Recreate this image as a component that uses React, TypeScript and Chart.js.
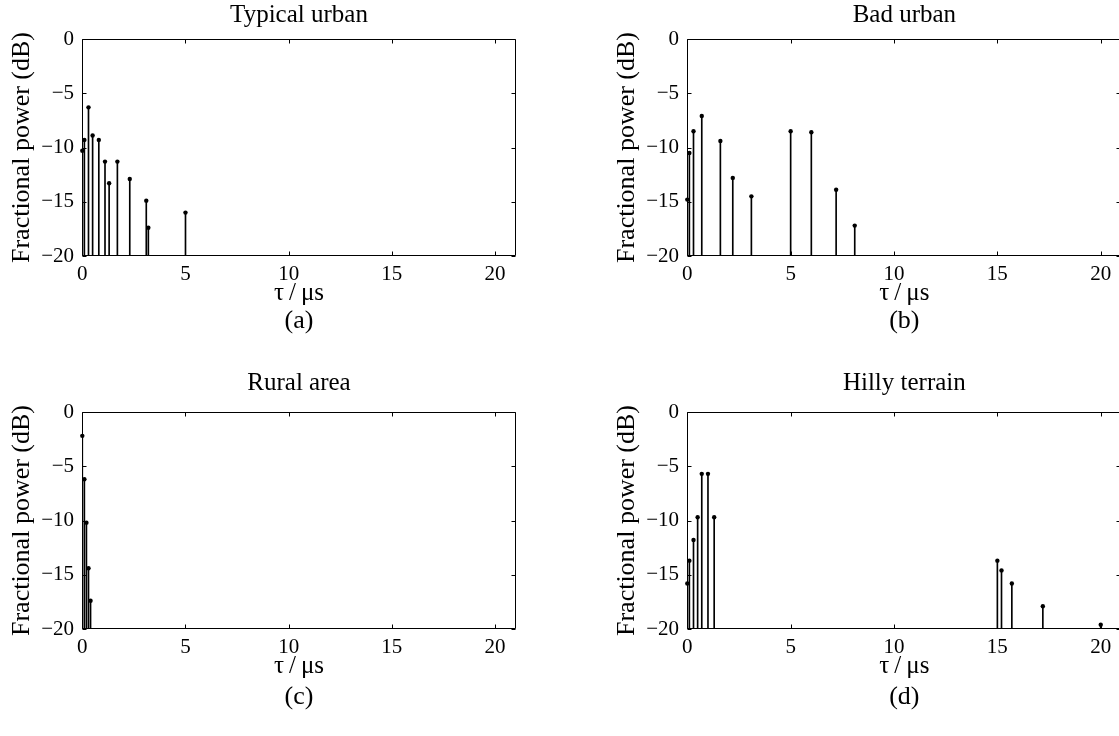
import React, { useEffect, useRef } from "react";
import { Chart, registerables } from "chart.js";

Chart.register(...registerables);

// ---------------- data ----------------
const tuDelay = [0, 0.1, 0.3, 0.5, 0.8, 1.1, 1.3, 1.7, 2.3, 3.1, 3.2, 5.0];
const tuPower = [-10.3, -9.3, -6.3, -8.9, -9.3, -11.3, -13.3, -11.3, -12.9, -14.9, -17.4, -16.0];

const buDelay = [0, 0.1, 0.3, 0.7, 1.6, 2.2, 3.1, 5.0, 6.0, 7.2, 8.1];
const buPower = [-14.8, -10.5, -8.5, -7.1, -9.4, -12.8, -14.5, -8.5, -8.6, -13.9, -17.2];

const raDelay = [0, 0.1, 0.2, 0.3, 0.4];
const raPower = [-2.2, -6.2, -10.2, -14.4, -17.4];

const htDelay = [0, 0.1, 0.3, 0.5, 0.7, 1.0, 1.3, 15.0, 15.2, 15.7, 17.2, 20.0];
const htPower = [-15.8, -13.7, -11.8, -9.7, -5.7, -5.7, -9.7, -13.7, -14.6, -15.8, -17.9, -19.6];

const xTickValues = [0, 5, 10, 15, 20];
const yTickValues = [-20, -15, -10, -5, 0];
const xRange = [0, 21];
const yRange = [-20, 0];

const panelTitles = ["Typical urban", "Bad urban", "Rural area", "Hilly terrain"];
const panelLabels = ["(a)", "(b)", "(c)", "(d)"];
const xAxisTitle = "\u03C4\u2009/\u2009\u03BCs";
const yAxisTitle = "Fractional power (dB)";

// ---------------- layout ----------------
const FONT = "'Liberation Serif', 'Times New Roman', serif";

const columns = [
  { x: 0, w: 560, padRight: 44.3 },
  { x: 605, w: 520, padRight: 3.6 },
];
const rows = [
  { y: 0, h: 368, titleTop: 0, titleBottom: 9, xScaleH: 52, xTitleBottom: 0, padBottom: 34 },
  { y: 368, h: 368, titleTop: 0, titleBottom: 14, xScaleH: 55, xTitleBottom: 3, padBottom: 26 },
];

const boxPlugin = {
  id: "matlabBox",
  afterDatasetsDraw(chart: any) {
    const { ctx, chartArea: a, scales } = chart;
    const xs = scales.x;
    const ys = scales.y;
    const L = Math.round(a.left) + 0.5;
    const R = Math.round(a.right) - 0.5;
    const T = Math.round(a.top) + 0.5;
    const B = Math.round(a.bottom) - 0.5;
    const tl = 4;
    ctx.save();
    ctx.strokeStyle = "#000";
    ctx.lineWidth = 1;
    ctx.beginPath();
    ctx.rect(L, T, R - L, B - T);
    for (const v of xTickValues) {
      const px = Math.round(xs.getPixelForValue(v)) + 0.5;
      ctx.moveTo(px, B);
      ctx.lineTo(px, B - tl);
      ctx.moveTo(px, T);
      ctx.lineTo(px, T + tl);
    }
    for (const v of yTickValues) {
      const py = Math.round(ys.getPixelForValue(v)) + 0.5;
      ctx.moveTo(L, py);
      ctx.lineTo(L + tl, py);
      ctx.moveTo(R, py);
      ctx.lineTo(R - tl, py);
    }
    ctx.stroke();
    ctx.restore();
  },
};

type PanelProps = {
  title: string;
  label: string;
  delay: number[];
  power: number[];
  col: (typeof columns)[number];
  row: (typeof rows)[number];
};

function StemPanel({ title, label, delay, power, col, row }: PanelProps) {
  const ref = useRef<HTMLCanvasElement | null>(null);

  useEffect(() => {
    if (!ref.current) return;
    const pts = delay.map((d, i) => ({ x: d, y: power[i] }));
    const chart = new Chart(ref.current, {
      type: "scatter",
      data: {
        datasets: [
          {
            type: "scatter",
            data: pts,
            pointRadius: 2.2,
            pointHoverRadius: 2.2,
            backgroundColor: "#000",
            borderColor: "#000",
            borderWidth: 0,
            clip: false,
          } as any,
          {
            type: "bar",
            data: pts,
            base: yRange[0],
            barThickness: 1,
            backgroundColor: "#000",
            borderWidth: 0,
          } as any,
        ],
      },
      options: {
        animation: false,
        responsive: false,
        events: [],
        layout: { padding: { left: 0, top: 0, right: col.padRight, bottom: row.padBottom } },
        plugins: {
          legend: { display: false },
          tooltip: { enabled: false },
          title: {
            display: true,
            text: title,
            fullSize: false,
            color: "#000",
            font: { family: FONT, size: 25, weight: "normal", lineHeight: 1.2 },
            padding: { top: row.titleTop, bottom: row.titleBottom },
          },
          subtitle: {
            display: true,
            position: "bottom",
            text: label,
            fullSize: false,
            color: "#000",
            font: { family: FONT, size: 26, weight: "normal", lineHeight: 1 },
            padding: 0,
          },
        },
        scales: {
          x: {
            type: "linear",
            min: xRange[0],
            max: xRange[1],
            offset: false,
            grid: { display: false, drawTicks: false },
            border: { display: false },
            ticks: {
              color: "#000",
              font: { family: FONT, size: 21 },
              padding: 5.4,
              autoSkip: false,
              maxRotation: 0,
              includeBounds: false,
            },
            afterBuildTicks: (s: any) => {
              s.ticks = xTickValues.map((v) => ({ value: v }));
            },
            afterFit: (s: any) => {
              s.height = row.xScaleH;
            },
            title: {
              display: true,
              text: xAxisTitle,
              color: "#000",
              font: { family: FONT, size: 25, lineHeight: 1.2 },
              padding: { top: 0, bottom: row.xTitleBottom },
            },
          },
          y: {
            type: "linear",
            min: yRange[0],
            max: yRange[1],
            grid: { display: false, drawTicks: false },
            border: { display: false },
            ticks: {
              color: "#000",
              font: { family: FONT, size: 21 },
              padding: 8.3,
              autoSkip: false,
              includeBounds: false,
              callback: (v: any) => String(v).replace("-", "\u2212"),
            },
            afterBuildTicks: (s: any) => {
              s.ticks = yTickValues.map((v) => ({ value: v }));
            },
            afterFit: (s: any) => {
              s.width = 82.3;
            },
            title: {
              display: true,
              text: yAxisTitle,
              color: "#000",
              font: { family: FONT, size: 26, lineHeight: 1.2 },
              padding: { top: 6.4, bottom: 0 },
            },
          },
        },
      } as any,
      plugins: [boxPlugin],
    });
    return () => chart.destroy();
  }, []);

  return (
    <canvas
      ref={ref}
      width={col.w}
      height={row.h}
      style={{ position: "absolute", left: col.x, top: row.y, width: col.w, height: row.h }}
    />
  );
}

const panelData = [
  { delay: tuDelay, power: tuPower },
  { delay: buDelay, power: buPower },
  { delay: raDelay, power: raPower },
  { delay: htDelay, power: htPower },
];

export default function App() {
  return (
    <div
      style={{
        position: "absolute",
        left: 0,
        top: 0,
        width: 1119,
        height: 736,
        overflow: "hidden",
        background: "#fff",
      }}
    >
      {panelData.map((p, i) => (
        <StemPanel
          key={i}
          title={panelTitles[i]}
          label={panelLabels[i]}
          delay={p.delay}
          power={p.power}
          col={columns[i % 2]}
          row={rows[Math.floor(i / 2)]}
        />
      ))}
    </div>
  );
}
